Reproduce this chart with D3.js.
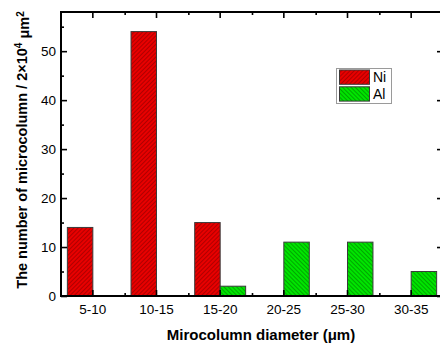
<!DOCTYPE html>
<html><head><meta charset="utf-8">
<script src="https://cdn.jsdelivr.net/npm/d3@7/dist/d3.min.js"></script>
<style>body{margin:0;background:#fff}svg{display:block}text{font-family:"Liberation Sans",Arial,sans-serif}</style>
</head><body>
<svg id="c" width="440" height="343"></svg>
<script>
const categories = ["5-10","10-15","15-20","20-25","25-30","30-35"];
const series = ["Ni","Al"];
const niValues = [14, 54, 15, 0, 0, 0];
const alValues = [0, 0, 2, 11, 11, 5];
const yTicks = [0,10,20,30,40,50];
const yMinorTicks = [5,15,25,35,45,55];

const svg = d3.select("#c");
const L=61, R=443, T=12, B=296;
const colors = {Ni:{fill:"#e80000",hatch:"#a80000"}, Al:{fill:"#00e400",hatch:"#00a000"}};

const defs = svg.append("defs");
series.forEach((s,i)=>{
  const p = defs.append("pattern").attr("id","h"+s).attr("patternUnits","userSpaceOnUse")
    .attr("width",3).attr("height",3).attr("patternTransform",`rotate(${i===0?45:-45})`);
  p.append("rect").attr("width",3).attr("height",3).attr("fill",colors[s].fill);
  p.append("line").attr("x1",0.5).attr("y1",0).attr("x2",0.5).attr("y2",3).attr("stroke",colors[s].hatch).attr("stroke-width",0.9);
});

const x = d3.scaleBand().domain(categories).range([L,R]).padding(0);
const xs = d3.scaleBand().domain(series).range([x.bandwidth()*0.1, x.bandwidth()*0.9]).padding(0);
const y = d3.scaleLinear().domain([0,58]).range([B,T]);

const data = categories.map((c,i)=>({c, Ni:niValues[i], Al:alValues[i]}));
const g = svg.append("g");
data.forEach(d=>{
  series.forEach(s=>{
    if(d[s]<=0) return;
    g.append("rect").attr("x",x(d.c)+xs(s)).attr("width",xs.bandwidth())
      .attr("y",y(d[s])).attr("height",y(0)-y(d[s]))
      .attr("fill",`url(#h${s})`).attr("stroke","#3a3a3a").attr("stroke-width",1);
  });
});

// axes
const fs = "13.5px";
const yAxis = d3.axisLeft(y).tickValues(yTicks).tickSizeInner(-6).tickSizeOuter(0).tickPadding(5).tickFormat(d3.format("d"));
const ay = svg.append("g").attr("transform",`translate(${L},0)`).call(yAxis);
ay.selectAll("text").style("font-size",fs).attr("fill","#000");
const yMinor = d3.axisLeft(y).tickValues(yMinorTicks).tickSizeInner(-3).tickSizeOuter(0).tickFormat("");
svg.append("g").attr("transform",`translate(${L},0)`).call(yMinor);
const yR = d3.axisRight(y).tickValues(yTicks).tickSizeInner(-6).tickSizeOuter(0).tickFormat("");
svg.append("g").attr("transform",`translate(${R},0)`).call(yR);
const yRm = d3.axisRight(y).tickValues(yMinorTicks).tickSizeInner(-3).tickSizeOuter(0).tickFormat("");
svg.append("g").attr("transform",`translate(${R},0)`).call(yRm);

const xAxis = d3.axisBottom(x).tickSizeInner(-6).tickSizeOuter(0).tickPadding(8);
const ax = svg.append("g").attr("transform",`translate(0,${B})`).call(xAxis);
ax.selectAll("text").style("font-size",fs).attr("fill","#000");
const bounds = categories.slice(1).map(c=>x(c));
const xMinor = d3.axisBottom(d3.scaleIdentity()).tickValues(bounds).tickSizeInner(-3).tickSizeOuter(0).tickFormat("");
svg.append("g").attr("transform",`translate(0,${B})`).call(xMinor);
const xTop = d3.axisTop(x).tickSizeInner(-6).tickSizeOuter(0).tickFormat("");
svg.append("g").attr("transform",`translate(0,${T})`).call(xTop);
const xTopM = d3.axisTop(d3.scaleIdentity()).tickValues(bounds).tickSizeInner(-3).tickSizeOuter(0).tickFormat("");
svg.append("g").attr("transform",`translate(0,${T})`).call(xTopM);

svg.selectAll(".domain").remove();
svg.selectAll(".tick line").attr("stroke","#000").attr("stroke-width",1.6);
svg.append("rect").attr("x",L).attr("y",T).attr("width",R-L).attr("height",B-T)
  .attr("fill","none").attr("stroke","#000").attr("stroke-width",2);

// labels
svg.append("text").attr("x",261).attr("y",339.5).attr("text-anchor","middle")
  .style("font-size","15px").style("font-weight","bold").text("Mirocolumn diameter (μm)");
const yl = svg.append("text").attr("transform","translate(26.5,150) rotate(-90)").attr("text-anchor","middle")
  .style("font-size","14.5px").style("font-weight","bold");
yl.append("tspan").text("The number of microcolumn / 2×10");
yl.append("tspan").attr("dy","-0.5em").style("font-size","10px").text("4");
yl.append("tspan").attr("dy","0.5em").text(" μm");
yl.append("tspan").attr("dy","-0.5em").style("font-size","10px").text("2");

// legend
const lg = svg.append("g");
lg.append("rect").attr("x",336.5).attr("y",68.5).attr("width",55).attr("height",35)
  .attr("fill","#fff").attr("stroke","#9a9a9a").attr("stroke-width",1);
series.forEach((s,i)=>{
  const yy = 70 + i*16.8;
  lg.append("rect").attr("x",339.5).attr("y",yy).attr("width",30).attr("height",14.3)
    .attr("fill",`url(#h${s})`).attr("stroke","#3a3a3a").attr("stroke-width",1);
  lg.append("text").attr("x",373).attr("y",yy+12).style("font-size","14px").text(s);
});
</script>
</body></html>
